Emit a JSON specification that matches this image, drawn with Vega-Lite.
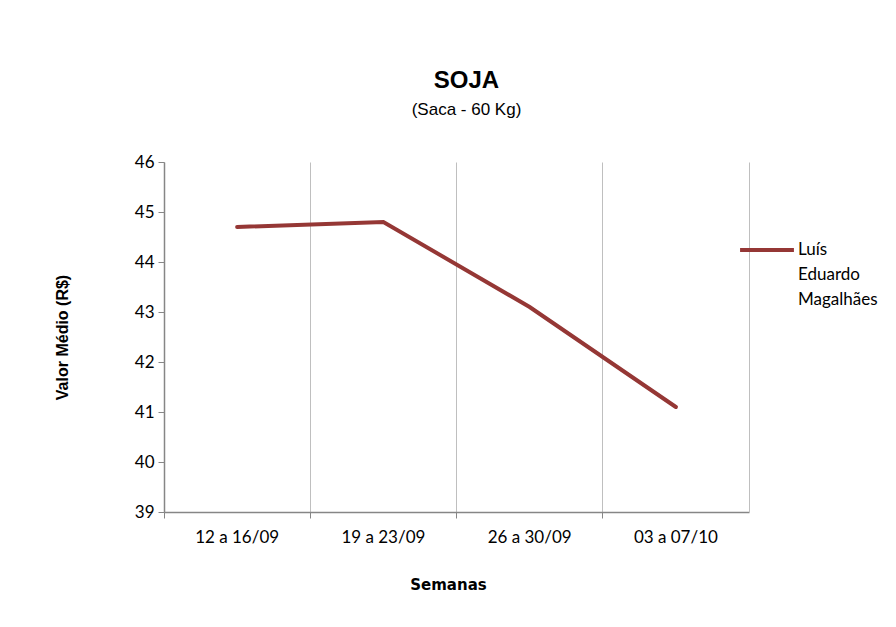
{
  "$schema": "https://vega.github.io/schema/vega-lite/v6.json",
  "autosize": {"type": "none"},
  "width": 585,
  "height": 350,
  "padding": {"left": 164, "top": 162, "right": 147, "bottom": 115},
  "background": "white",
  "title": {
    "text": "SOJA",
    "subtitle": "(Saca - 60 Kg)",
    "anchor": "middle",
    "frame": "group",
    "dx": 10,
    "offset": 35,
    "font": "Liberation Sans",
    "fontSize": 24,
    "fontWeight": "bold",
    "color": "black",
    "subtitleFont": "Liberation Sans",
    "subtitleFontSize": 17,
    "subtitleColor": "black",
    "subtitlePadding": 9
  },
  "data": {
    "values": [
      {"semana": "12 a 16/09", "valor": 44.7, "local": "Luís Eduardo Magalhães"},
      {"semana": "19 a 23/09", "valor": 44.8, "local": "Luís Eduardo Magalhães"},
      {"semana": "26 a 30/09", "valor": 43.1, "local": "Luís Eduardo Magalhães"},
      {"semana": "03 a 07/10", "valor": 41.1, "local": "Luís Eduardo Magalhães"}
    ]
  },
  "config": {
    "view": {"stroke": null},
    "style": {"guide-label": {"lineHeight": 25}}
  },
  "encoding": {
    "x": {
      "field": "semana",
      "type": "ordinal",
      "sort": null,
      "scale": {"type": "band", "paddingInner": 0, "paddingOuter": 0},
      "axis": {
        "title": "Semanas",
        "titleFont": "DejaVu Sans",
        "titleFontSize": 15,
        "titleFontWeight": "bold",
        "titleColor": "black",
        "titlePadding": 32,
        "titleX": 284,
        "labelAngle": 0,
        "labelFont": "Lato",
        "labelFontSize": 17,
        "labelColor": "black",
        "labelPadding": 11,
        "bandPosition": 0,
        "labelBound": false,
        "grid": true,
        "gridColor": "#bfbfbf",
        "gridWidth": 1,
        "domainColor": "#868686",
        "domainWidth": 1.5,
        "tickColor": "#868686",
        "tickSize": 6,
        "tickWidth": 1
      }
    },
    "y": {
      "field": "valor",
      "type": "quantitative",
      "scale": {"domain": [39, 46], "nice": false, "zero": false}
    }
  },
  "layer": [
    {
      "mark": {"type": "line", "strokeWidth": 4, "strokeCap": "round"},
      "encoding": {
        "y": {
          "field": "valor",
          "type": "quantitative",
          "scale": {"domain": [39, 46], "nice": false, "zero": false},
          "axis": {
            "title": "Valor Médio (R$)",
            "titleFont": "Liberation Sans",
            "titleFontSize": 16,
            "titleFontWeight": "bold",
            "titleColor": "black",
            "titlePadding": 64,
            "values": [39, 40, 41, 42, 43, 44, 45, 46],
            "labelFont": "Lato",
            "labelFontSize": 17,
            "labelColor": "black",
            "labelPadding": 4,
            "grid": false,
            "domainColor": "#868686",
            "domainWidth": 1.5,
            "tickColor": "#868686",
            "tickSize": 6
          }
        },
        "color": {
          "field": "local",
          "type": "nominal",
          "scale": {"range": ["#953735"]},
          "legend": {
            "title": null,
            "orient": "none",
            "legendX": 574,
            "legendY": 59,
            "symbolType": "stroke",
            "symbolSize": 2900,
            "symbolStrokeWidth": 4,
            "labelExpr": "split(datum.label, ' ')",
            "labelFont": "Lato",
            "labelFontSize": 17,
            "labelColor": "black",
            "labelOffset": 2,
            "labelLimit": 200
          }
        }
      }
    },
    {
      "mark": {"type": "point", "opacity": 0},
      "encoding": {
        "y": {
          "field": "valor",
          "type": "quantitative",
          "scale": {"domain": [39, 46], "nice": false, "zero": false},
          "axis": {
            "orient": "right",
            "title": null,
            "labels": false,
            "ticks": false,
            "grid": false,
            "domainColor": "#bfbfbf",
            "domainWidth": 1
          }
        }
      }
    }
  ],
  "resolve": {"axis": {"y": "independent"}}
}
